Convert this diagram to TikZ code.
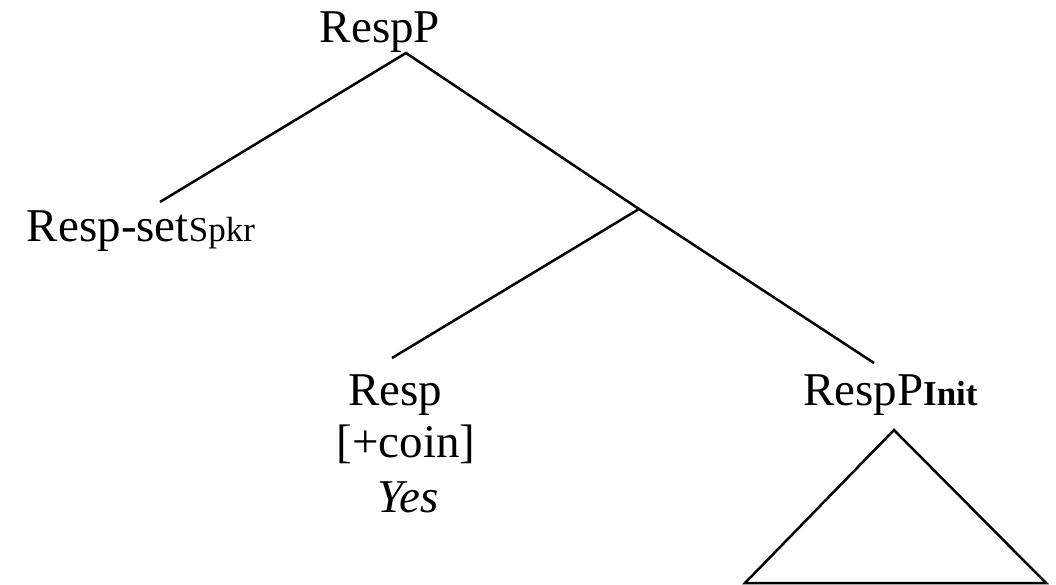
\documentclass[tikz,border=0pt]{standalone}
\usepackage{fontspec}
\setmainfont{Liberation Serif}
\begin{document}
\begin{tikzpicture}[x=1pt,y=-1pt,
  lab/.style={inner sep=0pt,outer sep=0pt,anchor=base,font=\fontsize{47}{53}\selectfont},
  edge/.style={line width=2.5pt}]
\useasboundingbox (0,0) rectangle (1056,585);
% labels
\node[lab] (root) at (380,43) {RespP};
\node[lab,anchor=base west] (spec) at (27,241) {Resp-set{\fontsize{35}{35}\selectfont Spkr}};
\node[lab] (head) at (395,405) {Resp};
\node[lab] (feat) at (406,457) {[+coin]};
\node[lab] (word) at (408,512) {\itshape Yes};
\node[lab,anchor=base west] (comp) at (803,405) {RespP{\fontsize{35}{35}\selectfont\bfseries Init}};
% branch points
\coordinate (rtop) at (406,53);
\coordinate (specend) at (160,202);
\coordinate (bar) at (639,209);
\coordinate (headend) at (392,358);
\coordinate (compend) at (874,363);
\coordinate (triA) at (894,430);
\coordinate (triL) at (745,583);
\coordinate (triR) at (1046,583);
% edges
\draw[edge] (specend) -- (rtop) -- (bar);
\draw[edge] (headend) -- (bar) -- (compend);
\draw[edge,line join=miter] (triA) -- (triL) -- (triR) -- cycle;
\end{tikzpicture}
\end{document}
